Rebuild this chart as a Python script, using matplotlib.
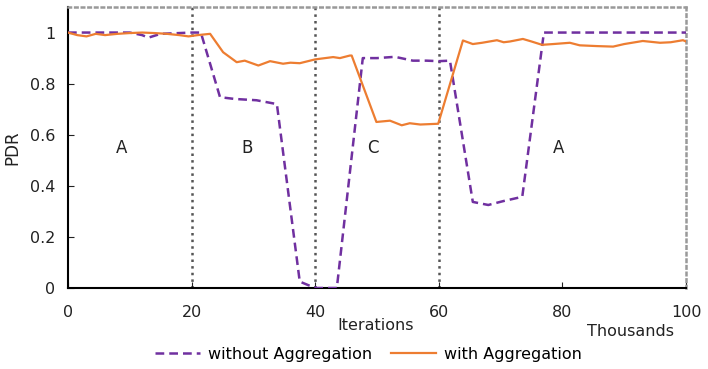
import numpy as np
import matplotlib.pyplot as plt

# PDR over iterations (thousands)
x_without = [0, 5, 10, 12, 13, 15, 20, 21.5, 24.6, 27, 30.5, 33.8, 37.5, 39, 40.2, 43.5,
             47.7, 50, 52.9, 55.8, 58, 60, 61.8, 65.5, 68, 70.4, 73.5, 77, 85, 100]
y_without = [1.0, 1.0, 1.0, 0.99, 0.98, 0.995, 1.0, 1.0, 0.747, 0.74, 0.735, 0.72, 0.025, 0.01, 0.0, 0.0,
             0.90, 0.90, 0.905, 0.89, 0.89, 0.888, 0.89, 0.337, 0.325, 0.34, 0.357, 1.0, 1.0, 1.0]

x_with = [0, 1.5, 3, 4.5, 6, 8, 10, 12, 14, 16, 18, 19.5, 21, 23, 25.1, 27.3, 28.6, 30.8, 32.7,
          34.8, 36, 37.5, 40, 42.9, 44, 45.6, 45.9, 49.9, 52.1, 54, 55.3, 57, 59.9,
          63.9, 65.5, 67, 69.4, 70.5, 71.5, 73.6, 75, 76.7, 78.5, 81.2, 82.8, 85.6, 88.2,
          90, 93, 95.8, 97.5, 99.5, 100]
y_with = [1.0, 0.99, 0.985, 0.995, 0.99, 0.995, 0.998, 1.0, 0.998, 0.995, 0.99, 0.985, 0.99, 0.995,
          0.923, 0.884, 0.89, 0.871, 0.888, 0.878, 0.882, 0.88, 0.895, 0.904, 0.9, 0.91, 0.91,
          0.65, 0.655, 0.637, 0.645, 0.64, 0.643,
          0.969, 0.955, 0.96, 0.97, 0.962, 0.965, 0.975, 0.965, 0.952, 0.955, 0.96, 0.95, 0.947, 0.945,
          0.955, 0.967, 0.96, 0.962, 0.97, 0.965]

phase_bounds = [20, 40, 60]
phase_labels = ['A', 'B', 'C', 'A']
phase_label_x = [8.7, 29, 49.4, 79.3]

fig = plt.figure(figsize=(7.08, 3.69), dpi=100)
ax = fig.add_axes([0.096, 0.2195, 0.873, 0.7615])

for b in phase_bounds:
    ax.axvline(b, color='#555555', linestyle=':', linewidth=1.8, zorder=1)

ax.plot(x_without, y_without, color='#7030A0', linestyle='--', linewidth=1.8,
        dashes=(3.5, 2.0), label='without Aggregation', zorder=3)
ax.plot(x_with, y_with, color='#ED7D31', linewidth=1.6, label='with Aggregation', zorder=4)

for lx, lt in zip(phase_label_x, phase_labels):
    ax.text(lx, 0.547, lt, ha='center', va='center', fontsize=12, color='#222222')

ax.set_xlim(0, 100)
ax.set_ylim(0, 1.1)
ax.set_xticks([0, 20, 40, 60, 80, 100])
ax.set_yticks([0, 0.2, 0.4, 0.6, 0.8, 1.0])
ax.set_yticklabels(['0', '0.2', '0.4', '0.6', '0.8', '1'])
ax.tick_params(direction='in', length=4, labelsize=11.5, colors='#222222')
ax.tick_params(axis='x', pad=12)
ax.tick_params(axis='y', pad=9)

for side in ['left', 'bottom']:
    ax.spines[side].set_color('black')
    ax.spines[side].set_linewidth(1.5)
for side in ['top', 'right']:
    ax.spines[side].set_color('#999999')
    ax.spines[side].set_linestyle(':')
    ax.spines[side].set_linewidth(1.8)

ax.set_ylabel('PDR', fontsize=12, color='#222222', labelpad=6)
fig.text(0.53, 0.118, 'Iterations', ha='center', va='center', fontsize=11.5, color='#222222')
fig.text(0.89, 0.102, 'Thousands', ha='center', va='center', fontsize=11.5, color='#222222')

fig.legend(loc='center', bbox_to_anchor=(0.52, 0.04), ncol=2, frameon=False, fontsize=11.5,
           handlelength=2.8, columnspacing=1.2, handletextpad=0.5)

fig.savefig('out.png', dpi=100)
